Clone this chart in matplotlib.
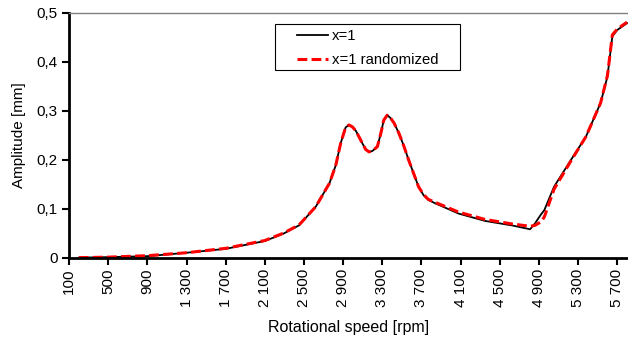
import numpy as np
import matplotlib.pyplot as plt
from matplotlib.patches import Rectangle

plt.rcParams['font.family'] = ['Liberation Sans', 'DejaVu Sans']

# values
rpm = [200, 500, 900, 1300, 1700, 2100, 2290, 2450, 2620, 2760, 2825, 2875, 2925, 2960,
       2995, 3030, 3095, 3130, 3165, 3200, 3250, 3285, 3315, 3350, 3385, 3420, 3470,
       3520, 3570, 3620, 3670, 3720, 3770, 3840, 4080, 4350, 4620, 4810, 4860, 4920,
       4955, 5055, 5225, 5380, 5530, 5600, 5650, 5700, 5800]
amp_x1 = [0.000, 0.001, 0.003, 0.010, 0.018, 0.034, 0.049, 0.066, 0.104, 0.152, 0.189,
          0.234, 0.266, 0.271, 0.267, 0.259, 0.234, 0.221, 0.216, 0.218, 0.227, 0.254,
          0.281, 0.291, 0.285, 0.275, 0.254, 0.228, 0.199, 0.172, 0.145, 0.128, 0.118,
          0.111, 0.090, 0.075, 0.066, 0.058, 0.070, 0.088, 0.097, 0.145, 0.199, 0.247,
          0.316, 0.370, 0.452, 0.465, 0.479]
amp_rand = [0.000, 0.001, 0.004, 0.010, 0.019, 0.035, 0.050, 0.067, 0.104, 0.152, 0.189,
            0.234, 0.266, 0.271, 0.267, 0.259, 0.234, 0.221, 0.216, 0.218, 0.227, 0.254,
            0.281, 0.291, 0.285, 0.275, 0.254, 0.228, 0.199, 0.172, 0.145, 0.129, 0.119,
            0.113, 0.093, 0.078, 0.069, 0.064, 0.066, 0.073, 0.083, 0.140, 0.197, 0.247,
            0.316, 0.372, 0.455, 0.467, 0.481]

xticks = list(range(100, 5701, 400))
xlabels = ['{:,}'.format(v).replace(',', ' ') for v in xticks]
yticks = [0, 0.1, 0.2, 0.3, 0.4, 0.5]
ylabels = ['0', '0,1', '0,2', '0,3', '0,4', '0,5']

W, H = 628, 339
fig = plt.figure(figsize=(W / 100, H / 100), dpi=100)
ax = fig.add_axes([0.11, 0.24, 0.89, 0.722])

ax.plot(rpm, amp_x1, color='black', lw=1.3, label='x=1')
ax.plot(rpm, amp_rand, color='red', lw=2.2, dashes=(3.2, 1.4), label='x=1 randomized')

ax.set_xlim(100, 5810)
ax.set_ylim(0, 0.5)
ax.set_xticks(xticks)
ax.set_xticklabels(xlabels, rotation=90, fontsize=11)
ax.set_yticks(yticks)
ax.set_yticklabels(ylabels, fontsize=11)
ax.tick_params(direction='out', length=5, width=1.5, pad=3)

ax.spines['left'].set_linewidth(2)
ax.spines['bottom'].set_linewidth(2)
ax.spines['top'].set_color('#808080')
ax.spines['top'].set_linewidth(1)
ax.spines['right'].set_visible(False)

ax.set_xlabel('Rotational speed [rpm]', fontsize=11.5, labelpad=9)
ax.set_ylabel('Amplitude [mm]', fontsize=11, labelpad=8)

# legend box drawn separately (wider side padding than the legend frame gives)
box = Rectangle((275 / W, 1 - 70 / H), 185 / W, 46 / H, transform=fig.transFigure,
                facecolor='white', edgecolor='black', lw=0.8, zorder=4)
fig.patches.append(box)
handles, labels = ax.get_legend_handles_labels()
leg = fig.legend(handles, labels, loc='upper left', bbox_to_anchor=(297 / W, 1 - 29 / H),
                 fontsize=10.7, frameon=False, handlelength=2.1, handletextpad=0.27,
                 borderpad=0, labelspacing=0.66, borderaxespad=0)
leg.set_zorder(5)

fig.savefig('out.png', dpi=100)
